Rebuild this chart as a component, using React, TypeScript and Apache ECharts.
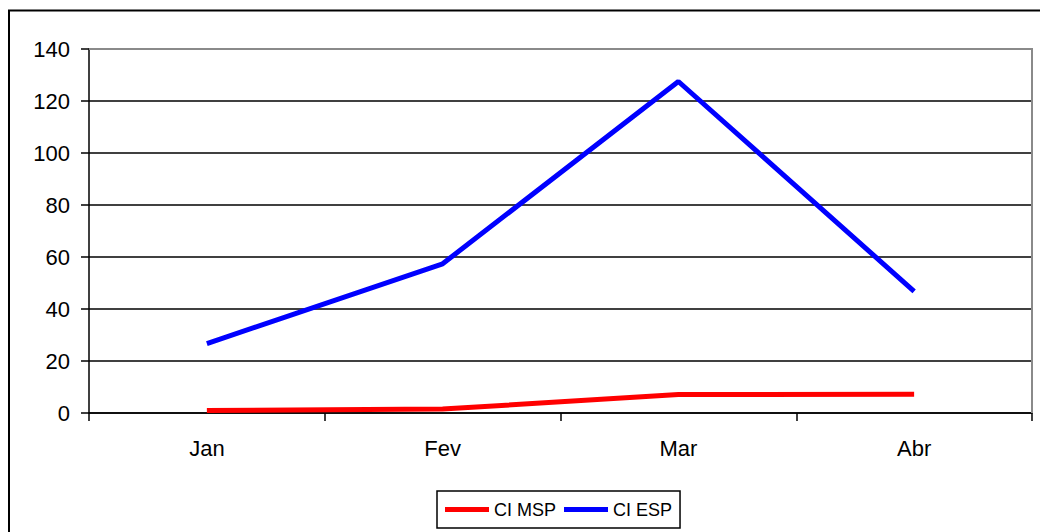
import React, { useEffect, useRef } from "react";
import * as echarts from "echarts";

const categories = ["Jan", "Fev", "Mar", "Abr"];
const ciMsp = [1.0, 1.5, 7.1, 7.2];
const ciEsp = [26.7, 57.4, 127.5, 46.8];
const seriesNames = ["CI MSP", "CI ESP"];

export default function App() {
  const ref = useRef<HTMLDivElement>(null);
  useEffect(() => {
    if (!ref.current) return;
    const chart = echarts.init(ref.current, null, { renderer: "svg" });
    const font = 'Arial, "Liberation Sans", sans-serif';
    chart.setOption({
      animation: false,
      backgroundColor: "#ffffff",
      grid: { left: 89, right: 8, top: 49, bottom: 119, containLabel: false },
      xAxis: {
        type: "category",
        data: categories,
        boundaryGap: true,
        axisLine: { lineStyle: { color: "#000", width: 1.5 } },
        axisTick: { show: true, length: 8, inside: false, lineStyle: { color: "#000", width: 1.5 } },
        axisLabel: { color: "#000", fontSize: 22, fontFamily: font, margin: 24 },
        splitLine: { show: false },
      },
      yAxis: {
        type: "value",
        min: 0,
        max: 140,
        interval: 20,
        axisLine: { show: true, lineStyle: { color: "#000", width: 1.5 } },
        axisTick: { show: true, length: 8, inside: false, lineStyle: { color: "#000", width: 1.5 } },
        axisLabel: { color: "#000", fontSize: 22, fontFamily: font, margin: 19 },
        splitLine: {
          show: true,
          lineStyle: {
            color: ["#000", "#000", "#000", "#000", "#000", "#000", "#000", "#8a8a8a"],
            width: 1.5,
          },
        },
      },
      legend: {
        data: seriesNames.map((n) => ({ name: n, icon: "rect" })),
        left: 437,
        top: 491,
        orient: "horizontal",
        itemWidth: 44,
        itemHeight: 5,
        itemGap: 8,
        padding: [8, 8, 8, 8],
        borderColor: "#000",
        borderWidth: 1.5,
        textStyle: {
          color: "#000",
          fontSize: 18,
          fontFamily: font,
          lineHeight: 21,
        },
      },
      graphic: [
        {
          type: "rect",
          shape: { x: 9, y: 10.5, width: 1100, height: 600 },
          style: { fill: "none", stroke: "#000", lineWidth: 2 },
          silent: true,
          z: 100,
        },
        {
          type: "polyline",
          shape: { points: [[89, 49], [1032, 49], [1032, 413]] },
          style: { fill: "none", stroke: "#8a8a8a", lineWidth: 2 },
          silent: true,
          z: 1,
        },
      ],
      series: [
        {
          name: seriesNames[0],
          type: "line",
          data: ciMsp,
          symbol: "none",
          lineStyle: { color: "#ff0000", width: 5 },
          itemStyle: { color: "#ff0000" },
          z: 3,
        },
        {
          name: seriesNames[1],
          type: "line",
          data: ciEsp,
          symbol: "none",
          lineStyle: { color: "#0000ff", width: 5 },
          itemStyle: { color: "#0000ff" },
          z: 3,
        },
      ],
    });
    return () => chart.dispose();
  }, []);
  return (
    <div
      ref={ref}
      style={{ position: "fixed", left: 0, top: 0, width: 1040, height: 532, background: "#fff" }}
    />
  );
}
